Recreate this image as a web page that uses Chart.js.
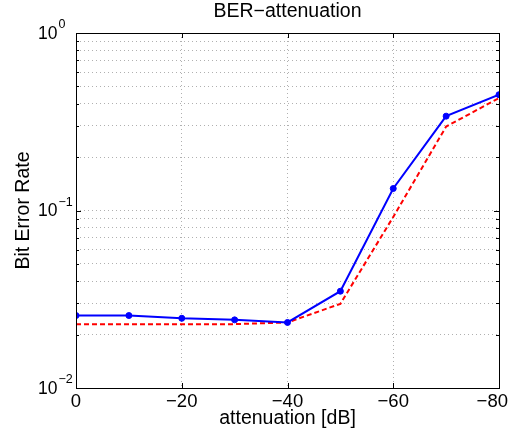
<!DOCTYPE html>
<html>
<head>
<meta charset="utf-8">
<script src="https://cdn.jsdelivr.net/npm/chart.js@4.4.0/dist/chart.umd.min.js"></script>
<style>
  html, body { margin: 0; padding: 0; background: #fff; }
  #wrap { width: 511px; height: 431px; }
</style>
</head>
<body>
<div id="wrap"><canvas id="berChart" width="511" height="431"></canvas></div>
<script>
const attenuation = [0, -10, -20, -30, -40, -50, -60, -70, -80];
const berMeasured = [0.0256, 0.0256, 0.0247, 0.0242, 0.0234, 0.0351, 0.133, 0.340, 0.449];
const berTheory = [0.0229, 0.0229, 0.0229, 0.0229, 0.0234, 0.0298, 0.092, 0.297, 0.430];
const xTicks = [0, -20, -40, -60, -80];
const yDecades = [0.01, 0.1, 1];
const yExponents = ['\u22122', '\u22121', '0'];

const FONT = '"Liberation Sans", Arial, Helvetica, sans-serif';

function toPoints(ys) {
    return attenuation.map((x, i) => ({ x: x, y: ys[i] }));
}

function minusSign(v) {
    return v < 0 ? '\u2212' + Math.abs(v) : String(v);
}

// log grid lines 1..9 per decade
function logTicks() {
    const out = [];
    for (let d = 0; d < yDecades.length - 1; d++) {
        for (let m = 1; m < 10; m++) out.push({ value: yDecades[d] * m });
    }
    out.push({ value: yDecades[yDecades.length - 1] });
    return out;
}

const matlabFrame = {
    id: 'matlabFrame',
    afterDraw(chart) {
        const ctx = chart.ctx;
        const a = chart.chartArea;
        const xs = chart.scales.x;
        const ys = chart.scales.y;
        ctx.save();

        // axes box
        ctx.strokeStyle = '#000';
        ctx.lineWidth = 1;
        ctx.setLineDash([]);
        ctx.strokeRect(Math.round(a.left) + 0.5, Math.round(a.top) + 0.5,
            Math.round(a.right - a.left), Math.round(a.bottom - a.top));

        // inward tick marks
        ctx.beginPath();
        xTicks.forEach(v => {
            const px = Math.round(xs.getPixelForValue(v)) + 0.5;
            ctx.moveTo(px, a.bottom); ctx.lineTo(px, a.bottom - 5);
            ctx.moveTo(px, a.top); ctx.lineTo(px, a.top + 5);
        });
        logTicks().forEach(t => {
            const py = Math.round(ys.getPixelForValue(t.value)) + 0.5;
            const len = yDecades.includes(t.value) ? 5 : 3;
            ctx.moveTo(a.left, py); ctx.lineTo(a.left + len, py);
            ctx.moveTo(a.right, py); ctx.lineTo(a.right - len, py);
        });
        ctx.stroke();

        ctx.fillStyle = '#000';

        // title
        ctx.font = '19.5px ' + FONT;
        ctx.textAlign = 'center';
        ctx.textBaseline = 'middle';
        ctx.fillText('BER\u2212attenuation', (a.left + a.right) / 2, 12);

        // x tick labels, kept inside the canvas like MATLAB does
        ctx.font = '18.5px ' + FONT;
        ctx.textBaseline = 'middle';
        xTicks.forEach(v => {
            const label = minusSign(v);
            const w = ctx.measureText(label).width;
            let cx = xs.getPixelForValue(v);
            if (cx + w / 2 > 508) cx = 508 - w / 2;
            ctx.fillText(label, cx, 402);
        });

        // x axis title
        ctx.font = '19.5px ' + FONT;
        ctx.fillText('attenuation [dB]', (a.left + a.right) / 2, 419);

        // y tick labels with superscript exponent
        yDecades.forEach((v, i) => {
            const py = ys.getPixelForValue(v);
            ctx.font = '17.5px ' + FONT;
            ctx.textAlign = 'left';
            ctx.textBaseline = 'middle';
            ctx.fillText('10', 38, py + 1);
            const w = ctx.measureText('10').width;
            ctx.font = '12.5px ' + FONT;
            ctx.textBaseline = 'alphabetic';
            ctx.fillText(yExponents[i], 38 + w + 1, py - 5);
        });

        // y axis title
        ctx.font = '19.5px ' + FONT;
        ctx.translate(24, (a.top + a.bottom) / 2);
        ctx.rotate(-Math.PI / 2);
        ctx.textAlign = 'center';
        ctx.textBaseline = 'middle';
        ctx.fillText('Bit Error Rate', 0, 0);

        ctx.restore();
    }
};

const berCtx = document.getElementById('berChart').getContext('2d');
new Chart(berCtx, {
    type: 'line',
    data: {
        datasets: [{
            label: 'measured',
            data: toPoints(berMeasured),
            borderColor: '#0000ff',
            backgroundColor: '#0000ff',
            borderWidth: 2,
            pointRadius: 3,
            pointBorderWidth: 1,
            tension: 0
        }, {
            label: 'theory',
            data: toPoints(berTheory),
            borderColor: '#ff0000',
            borderWidth: 2,
            borderDash: [5, 3],
            pointRadius: 0,
            tension: 0
        }]
    },
    options: {
        responsive: false,
        animation: false,
        layout: {
            padding: { left: 76, top: 33, right: 12, bottom: 43 }
        },
        plugins: {
            legend: { display: false },
            tooltip: { enabled: false }
        },
        scales: {
            x: {
                type: 'linear',
                reverse: true,
                min: -80,
                max: 0,
                afterBuildTicks: scale => { scale.ticks = xTicks.map(v => ({ value: v })); },
                ticks: { display: false },
                grid: { color: '#b0b0b0', lineWidth: 1, drawTicks: false },
                border: { display: false, dash: [1, 3] }
            },
            y: {
                type: 'logarithmic',
                min: 0.01,
                max: 1,
                afterBuildTicks: scale => { scale.ticks = logTicks(); },
                afterFit: scale => { scale.width = 0; },
                ticks: { display: false },
                grid: { color: '#b0b0b0', lineWidth: 1, drawTicks: false },
                border: { display: false, dash: [1, 3] }
            }
        }
    },
    plugins: [matlabFrame]
});
</script>
</body>
</html>
